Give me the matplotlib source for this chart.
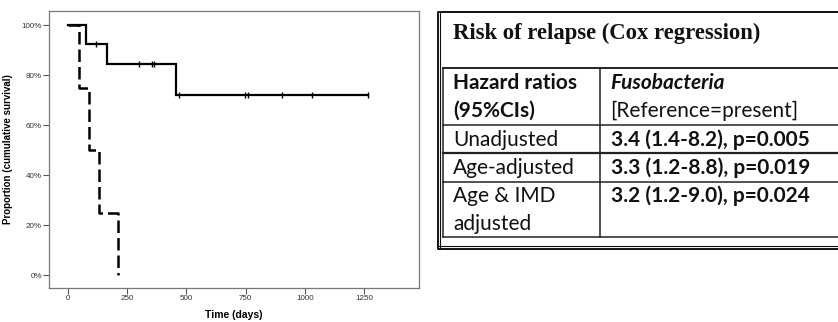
import matplotlib
matplotlib.use('Agg')
import matplotlib.pyplot as plt

# Kaplan-Meier steps (days, survival proportion)
present_t = [0, 76, 166, 455]
present_s = [1.0, 0.923, 0.846, 0.72]
present_end = 1265
present_cens_t = [118, 299, 357, 362, 469, 747, 760, 905, 1029, 1265]

absent_t = [0, 48, 90, 133, 211]
absent_s = [1.0, 0.75, 0.50, 0.25, 0.0]

xticks = [0, 250, 500, 750, 1000, 1250]
yticks = [0, 0.2, 0.4, 0.6, 0.8, 1.0]
ytick_labels = ['0%', '20%', '40%', '60%', '80%', '100%']

table_title = 'Risk of relapse (Cox regression)'
row_labels = [['Hazard ratios', '(95%CIs)'], ['Unadjusted'], ['Age-adjusted'], ['Age & IMD', 'adjusted']]
row_values = [['Fusobacteria', '[Reference=present]'],
              ['3.4 (1.4-8.2), p=0.005'],
              ['3.3 (1.2-8.8), p=0.019'],
              ['3.2 (1.2-9.0), p=0.024']]

W, H = 838, 322
fig = plt.figure(figsize=(W / 100, H / 100), dpi=100)

def step_xy(t, s, end):
	xs, ys = [], []
	for i in range(len(t)):
		x_next = t[i + 1] if i + 1 < len(t) else end
		xs += [t[i], x_next]
		ys += [s[i], s[i]]
	return xs, ys

# survival curve panel
ax = fig.add_axes([49 / W, (H - 288) / H, (419 - 49) / W, (288 - 11) / H])
xs, ys = step_xy(present_t, present_s, present_end)
ax.plot(xs, ys, color='black', lw=1.6, solid_joinstyle='miter')
xs, ys = step_xy(absent_t, absent_s, absent_t[-1])
ax.plot(xs, ys, color='black', lw=1.8, ls=(0, (5, 2)))

def surv_at(t):
	s = present_s[0]
	for tt, ss in zip(present_t, present_s):
		if t >= tt:
			s = ss
	return s

ax.plot(present_cens_t, [surv_at(t) for t in present_cens_t], ls='none',
	marker='|', ms=5, mew=1.0, color='black')

ax.set_xlim(-79, 1481)
ax.set_ylim(-0.052, 1.056)
ax.set_xticks(xticks)
ax.set_xticklabels([str(x) for x in xticks], fontsize=5.8, color='#333333', family='Liberation Sans')
ax.set_yticks(yticks)
ax.set_yticklabels(ytick_labels, fontsize=5.8, color='#333333', family='Liberation Sans')
ax.tick_params(length=4, width=0.8, color='#555555', pad=1)
for sp in ax.spines.values():
	sp.set_color('#777777')
	sp.set_linewidth(0.9)
ax.set_xlabel('Time (days)', fontsize=7.5, fontweight='bold', family='Liberation Sans', labelpad=6)
ax.set_ylabel('Proportion (cumulative survival)', fontsize=7, fontweight='bold', family='Liberation Sans', labelpad=6)

# hazard ratio table drawn in pixel coordinates
tx = fig.add_axes([0, 0, 1, 1])
tx.set_xlim(0, W)
tx.set_ylim(H, 0)
tx.axis('off')

outer_l, outer_t, outer_b = 438, 11.5, 248.5
tx.plot([W + 5, outer_l, outer_l, W + 5], [outer_t, outer_t, outer_b, outer_b], color='#111111', lw=1.4)
tx.plot([outer_l + 1.8, outer_l + 1.8], [outer_t, outer_b], color='#111111', lw=0.8)
tx.plot([outer_l, W + 5], [outer_b - 2.8, outer_b - 2.8], color='#111111', lw=0.8)

tx.text(453, 33.5, table_title, fontsize=16.3, fontweight='bold', family='Liberation Serif',
	va='center', ha='left', color='#111111')

inner_l, col_x = 442.5, 600
row_edges = [68.3, 125, 153.3, 181.7, 237.3]
edge_lw = [1.4, 1.1, 1.6, 1.1, 1.1]
for y, lw in zip(row_edges, edge_lw):
	tx.plot([inner_l, W + 5], [y, y], color='#222222', lw=lw)
tx.plot([inner_l, inner_l], [row_edges[0], row_edges[-1]], color='#222222', lw=1.1)
tx.plot([col_x, col_x], [row_edges[0], row_edges[-1]], color='#222222', lw=1.1)

line_h = 28
tfont = 'Lato'
for i, (labs, vals) in enumerate(zip(row_labels, row_values)):
	y0 = row_edges[i] + 14.5
	for j, s in enumerate(labs):
		tx.text(453, y0 + j * line_h, s, fontsize=15, family=tfont,
			fontweight='bold' if i == 0 else 'normal', va='center', ha='left', color='#111111')
	for j, s in enumerate(vals):
		if i == 0:
			w, st = ('bold', 'italic') if j == 0 else ('normal', 'normal')
		else:
			w, st = 'bold', 'normal'
		tx.text(610.5, y0 + j * line_h, s, fontsize=15, family=tfont,
			fontweight=w, style=st, va='center', ha='left', color='#111111')

fig.savefig('out.png', dpi=100)
